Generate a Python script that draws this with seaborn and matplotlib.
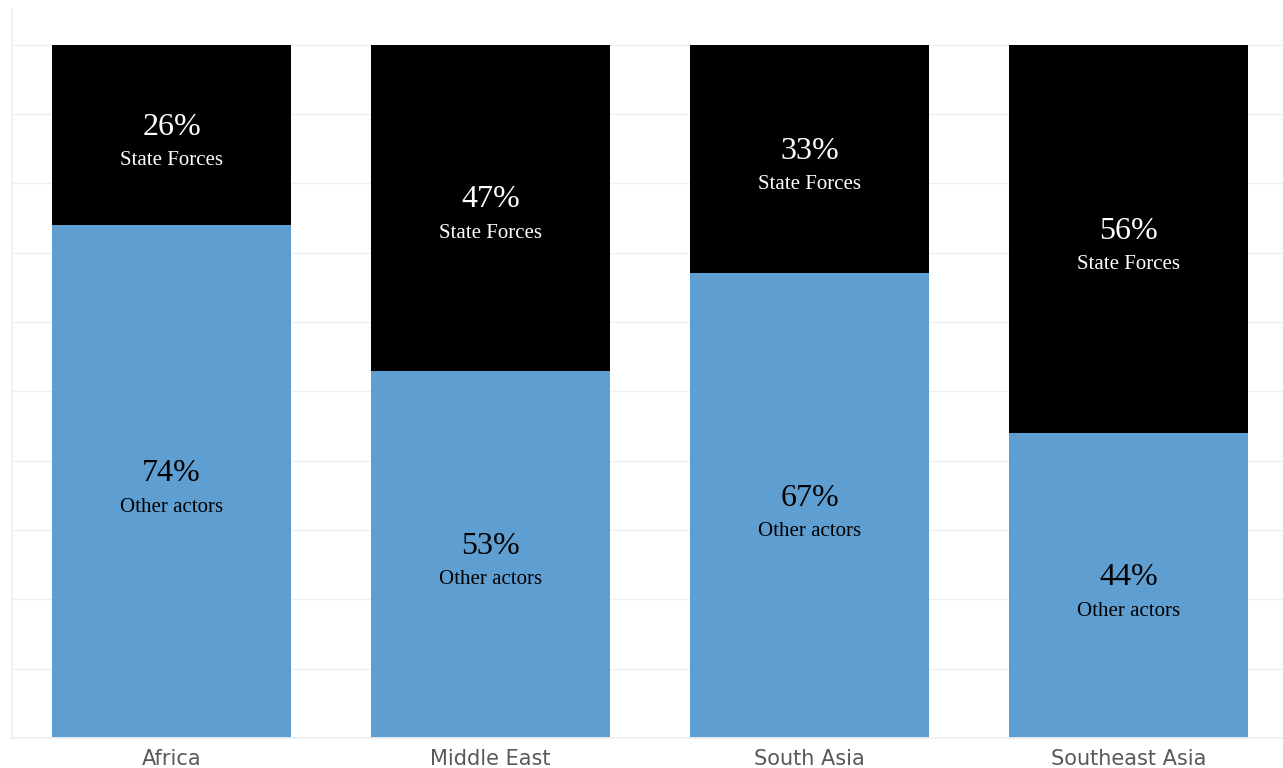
import matplotlib
matplotlib.use("Agg")
import matplotlib.pyplot as plt
import seaborn as sns
import pandas as pd
import numpy as np

regions = ["Africa", "Middle East", "South Asia", "Southeast Asia"]
other_actors = [74, 53, 67, 44]
state_forces = [26, 47, 33, 56]

BLUE = "#5f9ed1"
BLACK = "#000000"

sns.set_theme(style="white")

df = pd.DataFrame({
    "region": regions,
    "other": other_actors,
    "state": state_forces,
})
df["total"] = df["other"] + df["state"]

fig = plt.figure(figsize=(12.83, 7.68), dpi=100)
ax = fig.add_axes([12 / 1283, 30 / 768, 1276 / 1283, 728 / 768])

# stacked bars: full height in black, lower segment in blue
sns.barplot(data=df, x="region", y="total", color=BLACK, width=0.75,
            saturation=1, ax=ax, linewidth=0)
sns.barplot(data=df, x="region", y="other", color=BLUE, width=0.75,
            saturation=1, ax=ax, linewidth=0)

ax.set_xlim(-0.5, 3.5)
ax.set_ylim(0, 105)
ax.set_yticks(np.arange(0, 101, 10))
ax.yaxis.grid(True, color="#f0f0f0", linewidth=1)
ax.set_axisbelow(True)
ax.set_yticklabels([])
ax.tick_params(axis="y", length=0)
ax.tick_params(axis="x", length=0, pad=8, labelsize=15, labelcolor="#595959")
ax.set_xlabel("")
ax.set_ylabel("")
for side in ["top", "right"]:
    ax.spines[side].set_visible(False)
ax.spines["left"].set_color("#f0f0f0")
ax.spines["bottom"].set_color("#f0f0f0")
for lbl in ax.get_xticklabels():
    lbl.set_family(["DejaVu Sans"])

serif = ["Liberation Serif", "DejaVu Serif"]
for i, (o, s) in enumerate(zip(other_actors, state_forces)):
    mid_o = o / 2
    mid_s = o + s / 2
    ax.text(i, mid_o + 1.1, f"{o}%", ha="center", va="center",
            fontsize=23, color="black", family=serif)
    ax.text(i, mid_o - 3.7, "Other actors", ha="center", va="center",
            fontsize=15, color="black", family=serif)
    ax.text(i, mid_s + 1.1, f"{s}%", ha="center", va="center",
            fontsize=23, color="white", family=serif)
    ax.text(i, mid_s - 3.7, "State Forces", ha="center", va="center",
            fontsize=15, color="white", family=serif)

fig.savefig("out.png", dpi=100)
